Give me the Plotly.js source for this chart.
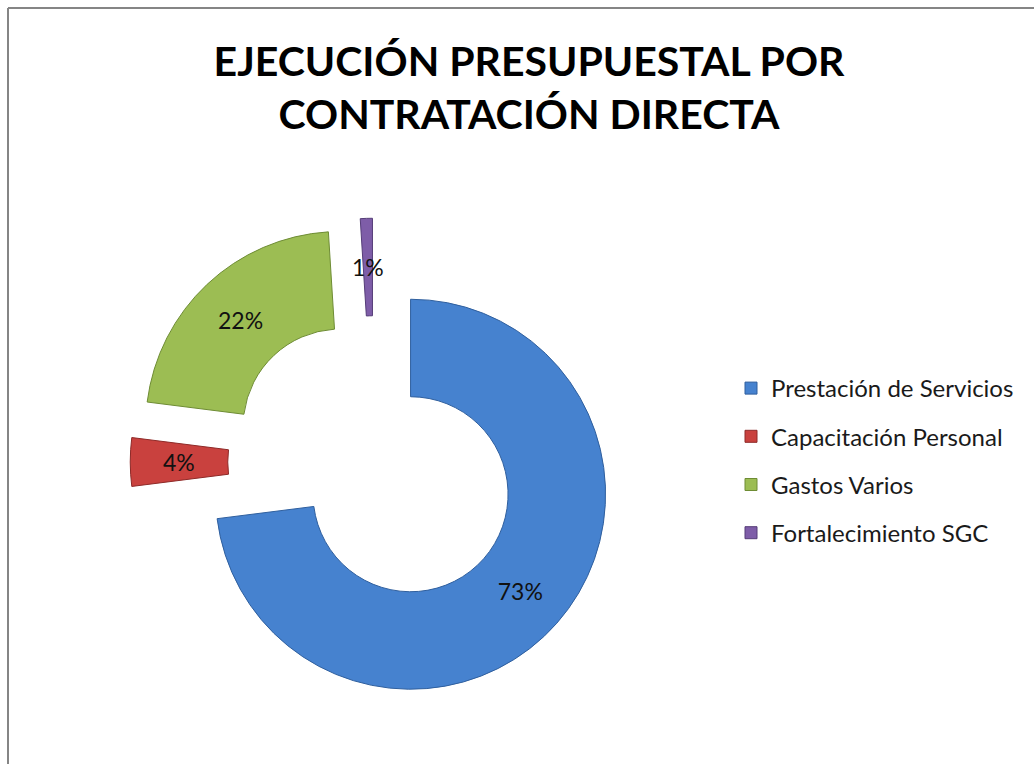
<!DOCTYPE html>
<html>
<head>
<meta charset="utf-8">
<script src="https://cdn.plot.ly/plotly-3.0.1.min.js"></script>
<style>
  html, body { margin: 0; padding: 0; background: #ffffff; }
  #chart { width: 1034px; height: 764px; }
</style>
</head>
<body>
<div id="chart"></div>
<script>
// ---- data ----
const categories = ["Prestación de Servicios", "Capacitación Personal", "Gastos Varios", "Fortalecimiento SGC"];
const values = [73, 4, 22, 1];
const colors = ["#4682CF", "#C9413E", "#9CBD53", "#7E5DA8"];
const edgeColors = ["#2F5F9E", "#8E2A28", "#6E8C34", "#553D78"];
const titleText = "EJECUCIÓN PRESUPUESTAL POR<br>CONTRATACIÓN DIRECTA";

// ---- geometry (layout only) ----
const W = 1034, H = 764;
const cx = 374, cy = 462;     // pie centre in px
const R = 195;                // pie radius in px
const pullFrac = 0.25;
const holeFrac = 0.5;
const half = R * (1 + pullFrac);
const domX = [(cx - half) / W, (cx + half) / W];
const domY = [1 - (cy + half) / H, 1 - (cy - half) / H];

const FONT = "Lato, 'Open Sans', 'DejaVu Sans', sans-serif";

// text positions: narrow slices get their label centred in the ring via annotation
const textPos = values.map(v => v >= 5 ? "inside" : "none");

const pie = {
  type: "pie",
  labels: categories,
  values: values,
  sort: false,
  direction: "clockwise",
  rotation: 0,
  hole: holeFrac,
  pull: values.map(() => pullFrac),
  marker: { colors: colors, line: { color: edgeColors, width: 1 } },
  textinfo: "percent",
  textposition: textPos,
  insidetextorientation: "horizontal",
  textfont: { family: FONT, size: 23, color: "#111111" },
  domain: { x: domX, y: domY },
  showlegend: false,
  hoverinfo: "label+percent"
};

// legend entries (one per category)
const legendTraces = categories.map((c, i) => ({
  type: "scatter",
  mode: "markers",
  x: [null], y: [null],
  name: c,
  legendgroup: "g" + i,
  marker: { symbol: "square", size: 12, color: colors[i], line: { color: edgeColors[i], width: 1 } },
  hoverinfo: "skip"
}));

// annotation for labels of narrow slices, placed at mid-ring along the slice's mid angle
const total = values.reduce((a, b) => a + b, 0);
const annotations = [];
let cum = 0;
values.forEach((v, i) => {
  const mid = (cum + v / 2) / total * 2 * Math.PI;
  cum += v;
  if (textPos[i] === "none") {
    const dirx = Math.sin(mid), diry = -Math.cos(mid);
    const rr = R * (1 + holeFrac) / 2 + R * pullFrac;
    const px = cx + dirx * rr, py = cy + diry * rr;
    annotations.push({
      xref: "paper", yref: "paper",
      x: px / W, y: 1 - py / H,
      xanchor: "center", yanchor: "middle",
      text: Math.round(v / total * 100) + "%",
      showarrow: false,
      font: { family: FONT, size: 23, color: "#111111" }
    });
  }
});

const layout = {
  width: W, height: H,
  margin: { l: 0, r: 0, t: 0, b: 0 },
  paper_bgcolor: "#ffffff",
  plot_bgcolor: "rgba(0,0,0,0)",
  title: {
    text: titleText,
    x: 529 / W, xanchor: "center",
    y: 1 - 76 / H, yanchor: "top",
    font: { family: FONT, size: 41, weight: "bold", color: "#000000" }
  },
  xaxis: { visible: false, domain: [0, 0.01] },
  yaxis: { visible: false, domain: [0, 0.01] },
  showlegend: true,
  legend: {
    x: 731 / W, xanchor: "left",
    y: 1 - 366 / H, yanchor: "top",
    font: { family: FONT, size: 24, color: "#1a1a1a" },
    tracegroupgap: 14,
    itemwidth: 30,
    bgcolor: "rgba(0,0,0,0)"
  },
  shapes: [
    { type: "line", xref: "paper", yref: "paper", x0: 8 / W, x1: 1.05, y0: 1 - 8 / H, y1: 1 - 8 / H, line: { color: "#858585", width: 2 } },
    { type: "line", xref: "paper", yref: "paper", x0: 8 / W, x1: 8 / W, y0: 1 - 8 / H, y1: -0.05, line: { color: "#858585", width: 2 } }
  ],
  annotations: annotations
};

Plotly.newPlot("chart", [pie].concat(legendTraces), layout, { displayModeBar: false, staticPlot: true });
</script>
</body>
</html>
